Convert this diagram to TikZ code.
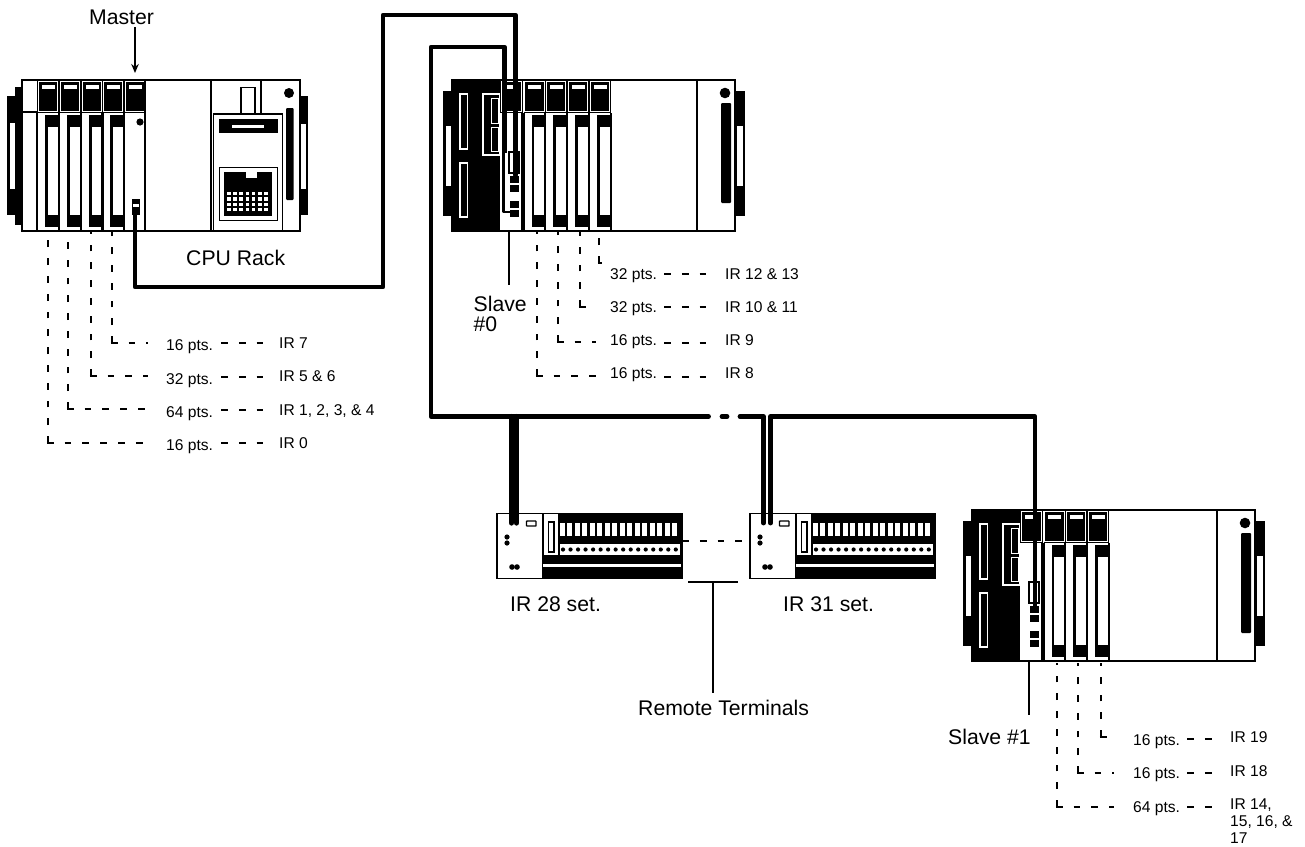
\documentclass[tikz,border=0pt]{standalone}
\usepackage{fontspec}
\usetikzlibrary{arrows.meta}
\setmainfont{Liberation Sans}
\newcommand{\bigt}{\fontsize{21.2}{24}\selectfont}
\newcommand{\smallt}{\fontsize{15.6}{17}\selectfont}
\newcommand{\modtop}[1]{%
  \fill[black] (#1-1,79.5) rectangle (#1+20.5,113);
  \draw[white,line width=.6pt] (#1,81.5) rectangle (#1+19.5,111);
  \fill[white] (#1+3.5,85) rectangle (#1+16.5,89);
}
\newcommand{\modlow}[1]{%
  \fill[black] (#1+7,115) rectangle (#1+20,227);
  \fill[white] (#1+9.5,127) rectangle (#1+20,215);
  \fill[black] (#1-2,113) rectangle (#1,231);
  \fill[black] (#1+20,113) rectangle (#1+21.5,231);
}
\newcommand{\sidemounts}{%
  \fill[black] (443,91) rectangle (453,216);
  \fill[white] (446,126) rectangle (452,186);
  \fill[black] (735,91) rectangle (745,216);
  \fill[white] (736.5,126) rectangle (743,186);
}
\newcommand{\slavebase}{%
  \sidemounts
  \fill[white] (452,79) rectangle (735,231);
  \fill[black] (452,79) rectangle (500,231);
  \draw[white,line width=1.6pt] (460,94) rectangle (467.5,149);
  \draw[white,line width=1.6pt] (460,163) rectangle (467.5,217);
  \draw[white,line width=1.5pt] (483,94) rectangle (500,155);
  \draw[white,line width=1pt] (491.5,98) rectangle (498,123);
  \draw[white,line width=1pt] (491.5,127) rectangle (498,151);
  \draw[black,line width=2pt] (452,80) rectangle (735,231);
  \fill[black] (696,80) rectangle (698,231);
  \fill[black] (725,93) circle (5.3);
  \fill[black,rounded corners=1pt] (721,103) rectangle (731,203);
  \fill[black] (500,79.5) rectangle (523,113);
  \draw[white,line width=.6pt] (501.5,81.5) rectangle (521,111);
  \fill[white] (505,85) rectangle (517,89);
  \fill[black] (521,113) rectangle (522.8,231);
  \draw[black,line width=1.4pt] (509,152) rectangle (519,173);
  \foreach \yy/\hh in {176/7,185/7,201/7,210/7}{\fill[black] (510,\yy) rectangle (518.5,\yy+\hh);}
}
% elbow: id, x, start y, elbow y, end x
\newcommand{\elbow}[5]{%
  \coordinate (v#1) at (#2,#3);
  \coordinate (w#1) at (#2,#4);
  \coordinate (x#1) at (#5,#4);
  \draw[dotted line] (w#1) -- (v#1);
  \draw[dotted line] (#2-1.2,#4) -- (x#1);
}
% dash run: id, x1, x2, y
\newcommand{\dashrun}[4]{%
  \coordinate (y#1) at (#2,#4);
  \coordinate (z#1) at (#3,#4);
  \draw[dotted line] (y#1) -- (z#1);
}
\begin{document}
\begin{tikzpicture}[x=1pt,y=-1pt,
  cable/.style={line width=4.8pt,black},
  dotted line/.style={line width=2.6pt,black,dash pattern=on 6.8pt off 11pt},
  lead/.style={line width=2pt,black},
  biglabel/.style={font=\bigt,inner sep=0pt,text=black,anchor=base west},
  smalllabel/.style={font=\smallt,inner sep=0pt,text=black,anchor=base west,align=left}]
\useasboundingbox (0,0) rectangle (1305,846);
\fill[white] (0,0) rectangle (1305,846);

%% ---------- CPU rack
\fill[black] (7,96) rectangle (15,215);
\fill[black] (15,87) rectangle (23,225);
\fill[white] (9.5,123) rectangle (15,189);
\fill[black] (299,96) rectangle (308,215);
\fill[white] (300.5,124) rectangle (306,189);
\draw[black,line width=2pt] (22,80) rectangle (299.5,231);
\draw[black,line width=1.6pt] (22,112) -- (145,112);
\foreach \m in {38,60,82,103,125}{\modtop{\m}}
\foreach \m in {38,60,82,103}{\modlow{\m}}
\fill[black] (123,113) rectangle (125,231);
\fill[black] (144,79) rectangle (146,231);
\fill[black] (140,122) circle (3.6);
\fill[black] (132,199) rectangle (139.5,215);
\fill[white] (132.5,204) rectangle (139,207);
\fill[black] (210,79) rectangle (212,231);
\draw[black,line width=1.6pt] (241,114) -- (241,87.5) -- (255,87.5) -- (255,114);
\draw[black,line width=1.6pt] (261,80) -- (261,114);
\draw[black,line width=1.8pt] (213.5,231) -- (213.5,114) -- (282.5,114) -- (282.5,231);
\fill[black] (219,119) rectangle (278,133);
\fill[white] (232,125) rectangle (264,128);
\draw[black,line width=1.4pt] (219.5,167.5) rectangle (277.5,220.5);
\fill[black] (224,172) rectangle (272,216);
\fill[white] (246,171) rectangle (257,178);
\foreach \c in {0,...,6}{\foreach \r in {0,...,3}{
  \fill[white] (227+\c*6.2,192+\r*5.4) rectangle +(3.6,3.1);}}
\fill[black] (289,93) circle (5);
\fill[black,rounded corners=1pt] (286,108) rectangle (293.5,200);

%% ---------- Slave #0 rack
\slavebase
\foreach \m in {524.5,546,568,590}{\modtop{\m}\modlow{\m}}

%% ---------- Slave #1 rack
\begin{scope}[shift={(520,430)}]
\slavebase
\foreach \m in {524.5,546,568}{\modtop{\m}\modlow{\m}}
\end{scope}

%% ---------- Remote terminals
\foreach \dx in {0,253}{
\begin{scope}[shift={(\dx,0)}]
\fill[black] (542,513) rectangle (682,579);
\draw[black,line width=1.6pt] (497,513.5) rectangle (682,578.5);
\fill[white] (498,514) rectangle (541.5,578);
\fill[white] (544,514) rectangle (557.5,555);
\draw[black,line width=1.5pt] (548.5,522) rectangle (554,552);
\foreach \i in {0,...,15}{\fill[white] (559.5+\i*7.52,523) rectangle +(5,13);}
\fill[white] (559.5,544) rectangle (680,555);
\foreach \i in {0,...,15}{\fill[black] (563+\i*7.52,549.5) circle (2.1);}
\fill[white] (543,564.2) rectangle (680.5,566.6);
\fill[black] (507,537) circle (2.6);
\fill[black] (507,543) circle (2.6);
\fill[black] (512,567) circle (2.8);
\fill[black] (517,567) circle (2.8);
\draw[black,line width=1.4pt,rounded corners=.5pt] (526.5,521) rectangle (536,526);
\end{scope}}

%% ---------- named end points for the connectors
\coordinate (cpuOut) at (135,212);
\coordinate (c1) at (135,287);
\coordinate (c2) at (383,287);
\coordinate (c3) at (383,15);
\coordinate (c4) at (515.5,15);
\coordinate (slaveIn) at (515.5,175);
\coordinate (d1) at (504.5,47);
\coordinate (d0) at (431,47);
\coordinate (d2) at (431,416.5);
\coordinate (d3) at (708,416.5);
\coordinate (slaveOut) at (504.5,153);
\coordinate (slaveLowE) at (512,212);
\coordinate (t1a) at (511.5,523);
\coordinate (t1b) at (516.5,523);
\coordinate (t1atop) at (511.5,416.5);
\coordinate (t1btop) at (516.5,416.5);
\coordinate (e1) at (722,416.5);
\coordinate (e2) at (727,416.5);
\coordinate (f1) at (740,416.5);
\coordinate (f2) at (763.5,416.5);
\coordinate (t2a) at (763.5,523);
\coordinate (g1) at (770.5,416.5);
\coordinate (t2b) at (770.5,523);
\coordinate (g2) at (1035,416.5);
\coordinate (rack2In) at (1035,605);

%% ---------- cables
\draw[cable,line cap=round,line join=round] (cpuOut) -- (c1) -- (c2) -- (c3) -- (c4) -- (slaveIn);
\draw[cable,line join=round] (slaveOut) -- (d1) -- (d0) -- (d2) -- (d3);
\draw[line width=2.4pt,black,line join=round] (slaveOut) ++(-1.2,0) -- (503.3,212) -- (slaveLowE);
\draw[cable,line width=5.2pt,line cap=round] (t1a) -- (t1atop);
\draw[cable,line width=5.2pt,line cap=round] (t1b) -- (t1btop);
\draw[cable,line cap=round] (d3) -- +(0.5,0);
\draw[cable,line cap=round] (e1) -- (e2);
\draw[cable,line cap=round,line join=round] (f1) -- (f2) -- (t2a);
\draw[cable,line cap=round,line join=round] (t2b) -- (g1) -- (g2) -- (rack2In);

%% ---------- master pointer and leaders
\coordinate (mA) at (135,27);
\coordinate (mB) at (135,73);
\draw[lead,-{Stealth[length=9pt,width=7.5pt]}] (mA) -- (mB);
\coordinate (s0a) at (509,232);
\coordinate (s0b) at (509,285);
\draw[lead] (s0a) -- (s0b);
\coordinate (s1a) at (1029,662);
\coordinate (s1b) at (1029,715);
\draw[lead] (s1a) -- (s1b);
\coordinate (tA) at (688,582);
\coordinate (tB) at (738,582);
\coordinate (tC) at (713,582);
\coordinate (tD) at (713,693);
\draw[lead] (tA) -- (tB);
\draw[lead] (tC) -- (tD);

%% ---------- link between the terminals
\coordinate (l1) at (682,541);
\coordinate (l2) at (750,541);
\draw[dotted line] (l1) -- (l2);

%% ---------- big texts
\node[biglabel] (master) at (89,24) {Master};
\node[biglabel] (cpu) at (186,265) {CPU Rack};
\node[biglabel] (s0l) at (473.5,311) {Slave};
\node[biglabel] (s0n) at (473.5,331.7) {\#0};
\node[biglabel] (ir28) at (510,611.7) {IR 28 set.};
\node[biglabel] (ir31) at (783,611.7) {IR 31 set.};
\node[biglabel] (rem) at (638,715.7) {Remote Terminals};
\node[biglabel] (s1l) at (948,744) {Slave \#1};

%% ---------- CPU rack points
\elbow{a}{112}{232}{343}{148}
\elbow{b}{91}{232}{376}{148}
\elbow{c}{68}{232}{409}{148}
\elbow{d}{48}{232}{443}{148}
\node[smalllabel] (pa) at (166,350.7) {16 pts.};
\node[smalllabel] (pb) at (166,384) {32 pts.};
\node[smalllabel] (pc) at (166,417.3) {64 pts.};
\node[smalllabel] (pd) at (166,450) {16 pts.};
\dashrun{a}{221}{264}{343}
\dashrun{b}{221}{264}{377}
\dashrun{c}{221}{264}{410}
\dashrun{d}{221}{264}{443}
\node[smalllabel] (qa) at (279,348.3) {IR 7};
\node[smalllabel] (qb) at (279,381.7) {IR 5 \& 6};
\node[smalllabel] (qc) at (279,415) {IR 1, 2, 3, \& 4};
\node[smalllabel] (qd) at (279,448.3) {IR 0};

%% ---------- Slave #0 points
\elbow{e}{599}{232}{263}{601.5}
\elbow{f}{580}{232}{307}{594}
\elbow{g}{558}{232}{342}{596}
\elbow{h}{537}{232}{376}{596}
\node[smalllabel] (pe) at (610,279.3) {32 pts.};
\node[smalllabel] (pf) at (610,312) {32 pts.};
\node[smalllabel] (pg) at (610,345.7) {16 pts.};
\node[smalllabel] (ph) at (610,378.3) {16 pts.};
\dashrun{e}{664}{708}{274}
\dashrun{f}{664}{708}{307}
\dashrun{g}{664}{708}{343}
\dashrun{h}{664}{708}{377}
\node[smalllabel] (qe) at (725,279.3) {IR 12 \& 13};
\node[smalllabel] (qf) at (725,312) {IR 10 \& 11};
\node[smalllabel] (qg) at (725,345.7) {IR 9};
\node[smalllabel] (qh) at (725,378.3) {IR 8};

%% ---------- Slave #1 points
\elbow{i}{1101}{663}{737}{1114}
\elbow{j}{1078}{663}{773}{1114}
\elbow{k}{1057}{663}{807}{1114}
\node[smalllabel] (pi) at (1133,745) {16 pts.};
\node[smalllabel] (pj) at (1133,778.3) {16 pts.};
\node[smalllabel] (pk) at (1133,812.7) {64 pts.};
\dashrun{i}{1187}{1213}{739}
\dashrun{j}{1187}{1213}{773}
\dashrun{k}{1187}{1213}{807}
\node[smalllabel] (qi) at (1230,742.7) {IR 19};
\node[smalllabel] (qj) at (1230,776) {IR 18};
\node[smalllabel] (qk1) at (1230,809.3) {IR 14,};
\node[smalllabel] (qk2) at (1230,826.5) {15, 16, \&};
\node[smalllabel] (qk3) at (1230,843.5) {17};
\end{tikzpicture}
\end{document}
